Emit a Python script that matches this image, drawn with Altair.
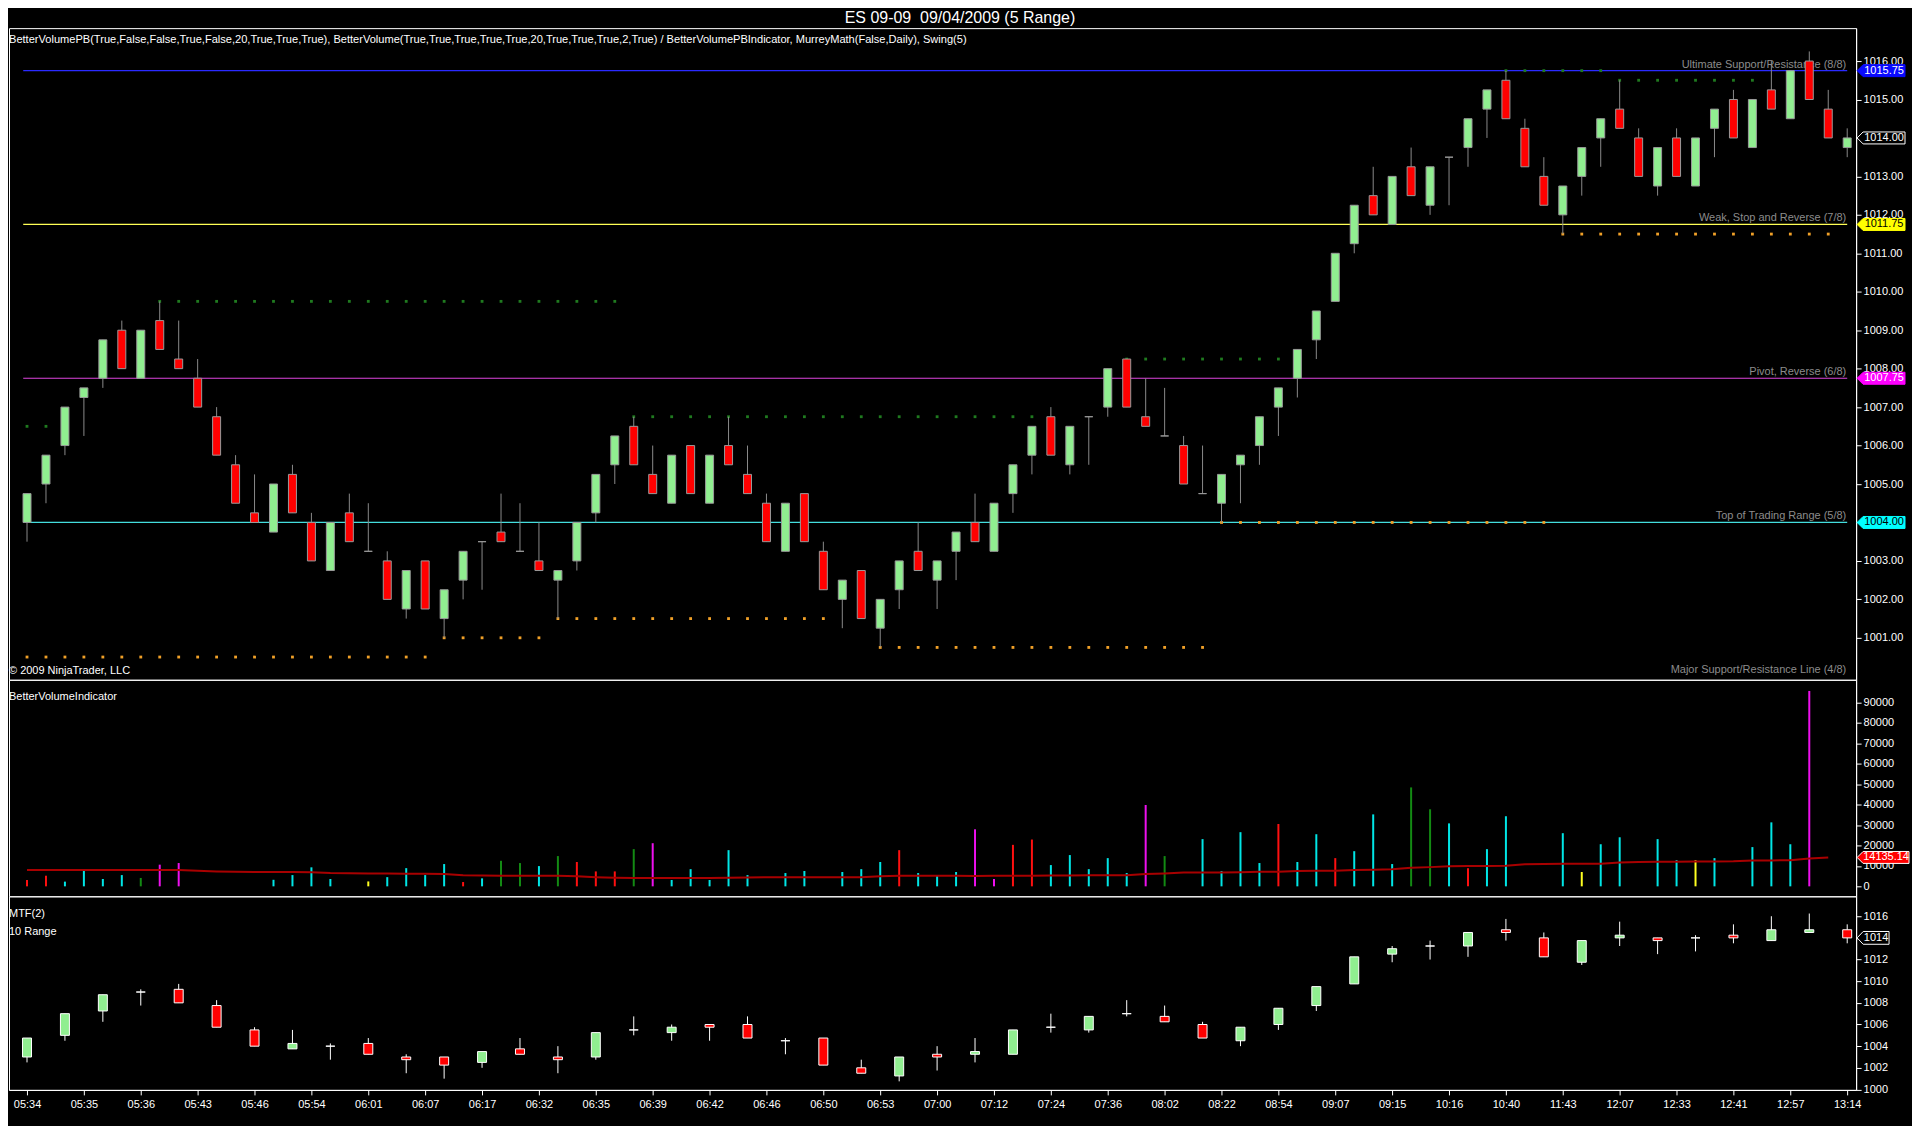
import json
import altair as alt
import pandas as pd

FONT = "Liberation Sans, Arial, sans-serif"

TITLE = "ES 09-09\u00a0 09/04/2009 (5 Range)"
INDICATORS = ("BetterVolumePB(True,False,False,True,False,20,True,True,True), "
              "BetterVolume(True,True,True,True,True,20,True,True,True,2,True) / "
              "BetterVolumePBIndicator, MurreyMath(False,Daily), Swing(5)")
COPYRIGHT = "\u00a9 2009 NinjaTrader, LLC"
VOL_TITLE = "BetterVolumeIndicator"
MTF_TITLE = "MTF(2)"
MTF_SUB = "10 Range"

# ---------------- 5-range bars ----------------
OPEN = [1004.0, 1005.0, 1006.0, 1007.25, 1007.75, 1009.0, 1007.75, 1009.25, 1008.25, 1007.75,
        1006.75, 1005.5, 1004.25, 1003.75, 1005.25, 1004.0, 1002.75, 1004.25, 1003.25, 1003.0,
        1001.75, 1003.0, 1001.5, 1002.5, 1003.5, 1003.75, 1003.25, 1003.0, 1002.5, 1003.0,
        1004.25, 1005.5, 1006.5, 1005.25, 1004.5, 1006.0, 1004.5, 1006.0, 1005.25, 1004.5,
        1003.25, 1004.75, 1003.25, 1002.0, 1002.75, 1001.25, 1002.25, 1003.25, 1002.5, 1003.25,
        1004.0, 1003.25, 1004.75, 1005.75, 1006.75, 1005.5, 1006.75, 1007.0, 1008.25, 1006.75,
        1006.25, 1006.0, 1004.75, 1004.5, 1005.5, 1006.0, 1007.0, 1007.75, 1008.75, 1009.75,
        1011.25, 1012.5, 1011.75, 1013.25, 1012.25, 1013.5, 1013.75, 1014.75, 1015.5, 1014.25,
        1013.0, 1012.0, 1013.0, 1014.0, 1014.75, 1014.0, 1012.75, 1014.0, 1012.75, 1014.25,
        1015.0, 1013.75, 1015.25, 1014.5, 1016.0, 1014.75, 1013.75]
HIGH = [1004.75, 1005.75, 1007.0, 1007.5, 1008.75, 1009.25, 1009.0, 1009.75, 1009.25, 1008.25,
        1007.0, 1005.75, 1005.25, 1005.0, 1005.5, 1004.25, 1004.0, 1004.75, 1004.5, 1003.25,
        1002.75, 1003.0, 1002.25, 1003.25, 1003.5, 1004.75, 1004.5, 1004.0, 1002.75, 1004.0,
        1005.25, 1006.25, 1006.75, 1006.0, 1005.75, 1006.0, 1005.75, 1006.75, 1006.0, 1004.75,
        1004.5, 1004.75, 1003.5, 1002.5, 1002.75, 1002.0, 1003.0, 1004.0, 1003.0, 1003.75,
        1004.75, 1004.5, 1005.5, 1006.5, 1007.0, 1006.5, 1006.75, 1008.0, 1008.25, 1007.75,
        1007.5, 1006.25, 1006.0, 1005.25, 1005.75, 1006.75, 1007.5, 1008.5, 1009.5, 1011.0,
        1012.25, 1013.25, 1013.0, 1013.75, 1013.25, 1013.5, 1014.5, 1015.25, 1015.75, 1014.5,
        1013.5, 1012.75, 1013.75, 1014.5, 1015.5, 1014.25, 1013.75, 1014.25, 1014.0, 1014.75,
        1015.25, 1015.0, 1016.0, 1015.75, 1016.25, 1015.25, 1014.25]
LOW = [1003.5, 1004.5, 1005.75, 1006.25, 1007.5, 1008.0, 1007.75, 1008.5, 1008.0, 1007.0,
       1005.75, 1004.5, 1004.0, 1003.75, 1004.25, 1003.0, 1002.75, 1003.5, 1003.25, 1002.0,
       1001.5, 1001.75, 1001.0, 1002.0, 1002.25, 1003.5, 1003.25, 1002.75, 1001.5, 1002.75,
       1004.0, 1005.0, 1005.5, 1004.75, 1004.5, 1004.75, 1004.5, 1005.5, 1004.75, 1003.5,
       1003.25, 1003.5, 1002.25, 1001.25, 1001.5, 1000.75, 1001.75, 1002.75, 1001.75, 1002.5,
       1003.5, 1003.25, 1004.25, 1005.25, 1005.75, 1005.25, 1005.5, 1006.75, 1007.0, 1006.5,
       1006.25, 1005.0, 1004.75, 1004.0, 1004.5, 1005.5, 1006.25, 1007.25, 1008.25, 1009.75,
       1011.0, 1012.0, 1011.75, 1012.5, 1012.0, 1012.25, 1013.25, 1014.0, 1014.5, 1013.25,
       1012.25, 1011.5, 1012.5, 1013.25, 1014.25, 1013.0, 1012.5, 1013.0, 1012.75, 1013.5,
       1014.0, 1013.75, 1014.75, 1014.5, 1015.0, 1014.0, 1013.5]
CLOSE = [1004.75, 1005.75, 1007.0, 1007.5, 1008.75, 1008.0, 1009.0, 1008.5, 1008.0, 1007.0,
         1005.75, 1004.5, 1004.0, 1005.0, 1004.25, 1003.0, 1004.0, 1003.5, 1003.25, 1002.0,
         1002.75, 1001.75, 1002.25, 1003.25, 1003.5, 1003.5, 1003.25, 1002.75, 1002.75, 1004.0,
         1005.25, 1006.25, 1005.5, 1004.75, 1005.75, 1004.75, 1005.75, 1005.5, 1004.75, 1003.5,
         1004.5, 1003.5, 1002.25, 1002.5, 1001.5, 1002.0, 1003.0, 1002.75, 1003.0, 1003.75,
         1003.5, 1004.5, 1005.5, 1006.5, 1005.75, 1006.5, 1006.75, 1008.0, 1007.0, 1006.5,
         1006.25, 1005.0, 1004.75, 1005.25, 1005.75, 1006.75, 1007.5, 1008.5, 1009.5, 1011.0,
         1012.25, 1012.0, 1013.0, 1012.5, 1013.25, 1013.5, 1014.5, 1015.25, 1014.5, 1013.25,
         1012.25, 1012.75, 1013.75, 1014.5, 1014.25, 1013.0, 1013.75, 1013.0, 1014.0, 1014.75,
         1014.0, 1015.0, 1014.75, 1015.75, 1015.0, 1014.0, 1014.0]

# Murrey Math levels
MURREY_LEVELS = [1015.75, 1011.75, 1007.75, 1004.00, 1000.00]
MURREY_NAMES = ["Ultimate Support/Resistance (8/8)", "Weak, Stop and Reverse (7/8)",
                "Pivot, Reverse (6/8)", "Top of Trading Range (5/8)",
                "Major Support/Resistance Line (4/8)"]

# Swing(5) levels: (price, first bar, last bar)
SWING_HIGHS = [(1006.5, 1, 2), (1009.75, 8, 32), (1006.75, 33, 54), (1008.25, 59, 67),
               (1015.75, 79, 84), (1015.5, 85, 92)]
SWING_LOWS = [(1000.5, 1, 22), (1001.0, 23, 28), (1001.5, 29, 43), (1000.75, 46, 63),
              (1004.0, 64, 81), (1011.5, 82, 96)]

LAST_PRICE = 1014.00

# ---------------- Better Volume ----------------
VOLUME = [3100, 5200, 2300, 7600, 3600, 5500, 4100, 10600, 11400, None,
          None, None, None, 3200, 5500, 9300, 3600, None, 2400, 4500,
          8900, 5500, 10900, 2100, 3900, 12500, 11400, 9900, 14800, 11900,
          7300, 7300, 18200, 21100, 3100, 8400, 3100, 17700, 5500, None,
          6500, 7500, None, 7000, 8400, 11900, 17700, 6500, 5500, 7000,
          27900, 3600, 20300, 22900, 10400, 15300, 8400, 13800, 6500, 39800,
          14800, None, 23100, 7500, 26500, 11400, 30500, 11900, 25500, 13800,
          17200, 35200, 10900, 48400, 37700, 30800, 8900, 18200, 34300, None,
          None, 26000, 7000, 20600, 24000, None, 23100, 12800, 12800, 13800,
          None, 19200, 31300, 20600, 95600, None, None]
# L = low volume, C = climax, U = churn, M = climax churn, Y = low churn
VOLTYPE = ["C", "C", "L", "L", "L", "L", "U", "M", "M", None,
           None, None, None, "L", "L", "L", "L", None, "Y", "L",
           "L", "L", "L", "C", "L", "U", "U", "L", "U", "C",
           "C", "C", "U", "M", "L", "L", "L", "L", "L", None,
           "L", "L", None, "L", "L", "L", "C", "L", "L", "L",
           "M", "M", "C", "C", "L", "L", "L", "L", "L", "M",
           "U", None, "L", "L", "L", "L", "C", "L", "L", "C",
           "L", "L", "L", "U", "U", "L", "C", "L", "L", None,
           None, "L", "Y", "L", "L", None, "L", "L", "Y", "L",
           None, "L", "L", "L", "M", None, None]
VOL_AVG = [7950, 7950, 7950, 7960, 7960, 7970, 7970, 7980, 7980, 7600,
           7300, 7100, 7050, 7000, 7000, 6950, 6500, 6350, 6300, 6300,
           6150, 6100, 6050, 5450, 5250, 5200, 5200, 5200, 5150, 4900,
           4500, 4200, 4100, 4100, 4100, 4050, 4100, 4150, 4350, 4400,
           4400, 4400, 4400, 4450, 4450, 4950, 5150, 5200, 5200, 5200,
           5100, 5150, 5200, 5200, 5250, 5350, 5400, 5400, 5450, 6000,
           6300, 6750, 6800, 6800, 6850, 7100, 7150, 7550, 7600, 7650,
           8050, 8150, 8400, 9100, 9400, 9850, 9900, 9950, 10100, 10850,
           10900, 11000, 11000, 11050, 11700, 11950, 12000, 12050, 12150, 12200,
           12250, 12650, 12700, 12750, 13600, 14135.14, None]
VOL_AVG_LAST = 14135.14

# ---------------- MTF(2): 10-range bars ----------------
MTF_OPEN = [1003.0, 1005.0, 1007.25, 1009.0, 1009.25, 1007.75, 1005.5, 1003.75, 1004.0, 1004.25,
            1003.0, 1003.0, 1002.5, 1003.75, 1003.0, 1003.0, 1005.5, 1005.25, 1006.0, 1006.0,
            1004.5, 1004.75, 1002.0, 1001.25, 1003.25, 1003.25, 1003.25, 1005.75, 1005.5, 1007.0,
            1006.75, 1006.0, 1004.5, 1006.0, 1007.75, 1009.75, 1012.5, 1013.25, 1013.25, 1014.75,
            1014.0, 1011.75, 1014.0, 1014.0, 1014.0, 1014.25, 1013.75, 1014.5, 1014.75]
MTF_HIGH = [1004.75, 1007.0, 1008.75, 1009.25, 1009.75, 1008.25, 1005.75, 1005.5, 1004.25, 1004.75,
            1003.25, 1003.0, 1003.5, 1004.75, 1004.0, 1005.25, 1006.75, 1006.0, 1006.0, 1006.75,
            1004.75, 1004.75, 1002.75, 1003.0, 1004.0, 1004.75, 1005.5, 1007.0, 1006.75, 1008.25,
            1007.75, 1006.25, 1005.75, 1007.5, 1009.5, 1012.25, 1013.25, 1013.75, 1014.5, 1015.75,
            1014.5, 1013.75, 1015.5, 1014.0, 1014.25, 1015.25, 1016.0, 1016.25, 1015.25]
MTF_LOW = [1002.5, 1004.5, 1006.25, 1007.75, 1008.0, 1005.75, 1004.0, 1003.75, 1002.75, 1003.25,
           1001.5, 1001.0, 1002.0, 1003.25, 1001.5, 1002.75, 1005.0, 1004.5, 1004.5, 1004.75,
           1003.25, 1002.25, 1001.5, 1000.75, 1001.75, 1002.5, 1003.25, 1005.25, 1005.25, 1006.75,
           1006.25, 1004.75, 1004.0, 1005.5, 1007.25, 1009.75, 1011.75, 1012.0, 1012.25, 1013.75,
           1012.25, 1011.5, 1013.25, 1012.5, 1012.75, 1013.5, 1013.75, 1014.5, 1013.5]
MTF_CLOSE = [1004.75, 1007.0, 1008.75, 1009.0, 1008.0, 1005.75, 1004.0, 1004.25, 1004.0, 1003.25,
             1002.75, 1002.25, 1003.5, 1003.25, 1002.75, 1005.25, 1005.5, 1005.75, 1005.75, 1004.75,
             1004.5, 1002.25, 1001.5, 1003.0, 1003.0, 1003.5, 1005.5, 1005.75, 1006.75, 1007.0,
             1006.25, 1004.75, 1005.75, 1007.5, 1009.5, 1012.25, 1013.0, 1013.25, 1014.5, 1014.5,
             1012.25, 1013.75, 1014.25, 1013.75, 1014.0, 1014.0, 1014.75, 1014.75, 1014.0]
MTF_LAST = 1014

TIME_LABELS = ["05:34", "05:35", "05:36", "05:43", "05:46", "05:54", "06:01", "06:07", "06:17",
               "06:32", "06:35", "06:39", "06:42", "06:46", "06:50", "06:53", "07:00", "07:12",
               "07:24", "07:36", "08:02", "08:22", "08:54", "09:07", "09:15", "10:16", "10:40",
               "11:43", "12:07", "12:33", "12:41", "12:57", "13:14"]

# ---------------- styles ----------------
UP, DOWN = "#90ee90", "#ff0000"
MURREY_COLORS = ["#2a2aff", "#ffff55", "#dd44dd", "#44dddd", None]
TAG_FILL = ["#0a0aff", "#ffff00", "#ff00ff", "#00ffff"]
TAG_TEXT = ["#ffffff", "#000000", "#ffffff", "#000000"]
VOL_COLORS = {"L": "#00e6e6", "C": "#ff1010", "U": "#138a13", "M": "#ee10ee", "Y": "#ffff20"}
SWING_HIGH_COLOR, SWING_LOW_COLOR = "#1f7a1f", "#f0a028"

W = 1851
H_PRICE, H_VOL, H_MTF = 653, 217, 194
XS = alt.Scale(domain=[0.05, 97.47], nice=False, zero=False, padding=0)
YS_P = alt.Scale(domain=[999.909, 1016.856], nice=False, zero=False, padding=0)
YS_V = alt.Scale(domain=[-4880, 101070], nice=False, zero=False, padding=0)
YS_M = alt.Scale(domain=[999.96, 1017.84], nice=False, zero=False, padding=0)

AX_P = alt.Axis(orient="right", values=list(range(1001, 1017)), format=".2f", title=None, grid=False)
AX_V = alt.Axis(orient="right", values=list(range(0, 90001, 10000)), format="d", title=None, grid=False)
AX_M = alt.Axis(orient="right", values=list(range(1000, 1017, 2)), format="d", title=None, grid=False)
AX_T = alt.Axis(orient="bottom", values=list(range(1, 98, 3)), title=None, grid=False,
                labelFlush=False, labelPadding=4,
                labelExpr=json.dumps(TIME_LABELS) + "[round((datum.value - 1) / 3)]")

TAG_PATH_P = "M-1,0L-0.75,-0.25L1,-0.25L1,0.25L-0.75,0.25Z"
TAG_PATH_V = "M-1,0L-0.77,-0.23L1,-0.23L1,0.23L-0.77,0.23Z"
TAG_PATH_M = "M-1,0L-0.62,-0.4L1,-0.4L1,0.4L-0.62,0.4Z"


def X(field="i"):
    return alt.X(f"{field}:Q", scale=XS, axis=None)


def candle_frame(idx, o, h, l, c, up, down, flat):
    df = pd.DataFrame({"i": idx, "o": o, "h": h, "l": l, "c": c})
    df["fill"] = [up if cc > oo else (down if cc < oo else flat) for oo, cc in zip(o, c)]
    return df


def text_layer(txt, x, y, color="white", size=11, align="left", baseline="middle"):
    return alt.Chart(pd.DataFrame({"t": [txt]})).mark_text(
        align=align, baseline=baseline, color=color, fontSize=size, font=FONT
    ).encode(x=alt.value(x), y=alt.value(y), text="t:N")


# ================= price panel =================
bars = candle_frame(list(range(1, len(OPEN) + 1)), OPEN, HIGH, LOW, CLOSE, UP, DOWN, "#000000")

mm = pd.DataFrame({"level": MURREY_LEVELS, "name": MURREY_NAMES, "col": MURREY_COLORS})
mm_lines = mm.dropna(subset=["col"])

m_rules = alt.Chart(mm_lines).mark_rule(strokeWidth=1.2).encode(
    x=alt.XDatum(0.8, scale=XS, axis=None), x2=alt.X2Datum(97.0),
    y=alt.Y("level:Q", scale=YS_P, axis=AX_P),
    color=alt.Color("col:N", scale=None))
m_labels = alt.Chart(mm).mark_text(align="right", baseline="bottom", dy=-1, color="#8c8c8c",
                                   fontSize=11, font=FONT).encode(
    x=alt.XDatum(96.95, scale=XS, axis=None),
    y=alt.Y("level:Q", scale=YS_P, axis=AX_P), text="name:N")

sw_rows = []
for lvl, a, b in SWING_HIGHS:
    sw_rows += [{"i": k, "p": lvl, "col": SWING_HIGH_COLOR} for k in range(a, b + 1)]
for lvl, a, b in SWING_LOWS:
    sw_rows += [{"i": k, "p": lvl, "col": SWING_LOW_COLOR} for k in range(a, b + 1)]
swings = alt.Chart(pd.DataFrame(sw_rows)).mark_square(size=8, opacity=1).encode(
    x=X(), y=alt.Y("p:Q", scale=YS_P, axis=AX_P), color=alt.Color("col:N", scale=None))

wicks = alt.Chart(bars).mark_rule(color="#8a8a8a", strokeWidth=1).encode(
    x=X(), y=alt.Y("l:Q", scale=YS_P, axis=AX_P), y2="h:Q")
bodies = alt.Chart(bars).mark_bar(size=8, stroke="#9a9a9a", strokeWidth=1).encode(
    x=X(), y=alt.Y("o:Q", scale=YS_P, axis=AX_P), y2="c:Q",
    fill=alt.Fill("fill:N", scale=None))

tags_p = pd.DataFrame({"v": MURREY_LEVELS[:4] + [LAST_PRICE],
                       "txt": [f"{v:.2f}" for v in MURREY_LEVELS[:4] + [LAST_PRICE]],
                       "fill": TAG_FILL + ["#000000"],
                       "stroke": TAG_FILL + ["#ffffff"],
                       "tc": TAG_TEXT + ["#ffffff"]})
tag_shape_p = alt.Chart(tags_p).mark_point(shape=TAG_PATH_P, size=2304, filled=True, opacity=1,
                                          strokeWidth=1).encode(
    x=alt.value(1876), y=alt.Y("v:Q", scale=YS_P, axis=AX_P),
    fill=alt.Fill("fill:N", scale=None), stroke=alt.Stroke("stroke:N", scale=None))
tag_text_p = alt.Chart(tags_p).mark_text(fontSize=11, font=FONT, align="center",
                                         baseline="middle").encode(
    x=alt.value(1879), y=alt.Y("v:Q", scale=YS_P, axis=AX_P), text="txt:N",
    color=alt.Color("tc:N", scale=None))

price = alt.layer(
    m_rules, m_labels, swings, wicks, bodies, tag_shape_p, tag_text_p,
    text_layer(INDICATORS, 0, 12, size=11.1),
    text_layer(COPYRIGHT, 0, 644),
).properties(width=W, height=H_PRICE)

# ================= volume panel =================
vol = pd.DataFrame({"i": list(range(1, len(VOLUME) + 1)), "v": VOLUME, "t": VOLTYPE, "ma": VOL_AVG})
vbars = vol.dropna(subset=["v"]).copy()
vbars["col"] = [VOL_COLORS[t] for t in vbars["t"]]
vrules = alt.Chart(vbars).mark_rule(strokeWidth=2).encode(
    x=X(), y=alt.Y("v:Q", scale=YS_V, axis=AX_V), y2=alt.Y2Datum(0),
    color=alt.Color("col:N", scale=None))
vma = alt.Chart(vol.dropna(subset=["ma"])).mark_line(color="#a80000", strokeWidth=2).encode(
    x=X(), y=alt.Y("ma:Q", scale=YS_V, axis=AX_V))
tag_v = pd.DataFrame({"v": [VOL_AVG_LAST], "txt": [f"{VOL_AVG_LAST:.2f}"]})
tag_shape_v = alt.Chart(tag_v).mark_point(shape=TAG_PATH_V, size=2704, filled=True, opacity=1,
                                         fill="#ff0000", stroke="#ffffff", strokeWidth=1).encode(
    x=alt.value(1878), y=alt.Y("v:Q", scale=YS_V, axis=AX_V))
tag_text_v = alt.Chart(tag_v).mark_text(fontSize=11, font=FONT, color="white").encode(
    x=alt.value(1881), y=alt.Y("v:Q", scale=YS_V, axis=AX_V), text="txt:N")

volume = alt.layer(vrules, vma, tag_shape_v, tag_text_v,
                   text_layer(VOL_TITLE, 0, 17)).properties(width=W, height=H_VOL)

# ================= MTF panel =================
mtf = candle_frame(list(range(1, 2 * len(MTF_OPEN), 2)), MTF_OPEN, MTF_HIGH, MTF_LOW, MTF_CLOSE,
                   UP, DOWN, "#000000")
m_wicks = alt.Chart(mtf).mark_rule(color="white", strokeWidth=1).encode(
    x=alt.X("i:Q", scale=XS, axis=AX_T), y=alt.Y("l:Q", scale=YS_M, axis=AX_M), y2="h:Q")
m_bodies = alt.Chart(mtf).mark_bar(size=9, stroke="white", strokeWidth=1).encode(
    x=alt.X("i:Q", scale=XS, axis=AX_T), y=alt.Y("o:Q", scale=YS_M, axis=AX_M), y2="c:Q",
    fill=alt.Fill("fill:N", scale=None))
tag_m = pd.DataFrame({"v": [MTF_LAST], "txt": [str(MTF_LAST)]})
tag_shape_m = alt.Chart(tag_m).mark_point(shape=TAG_PATH_M, size=1024, filled=True, opacity=1,
                                         fill="#000000", stroke="#ffffff", strokeWidth=1).encode(
    x=alt.value(1868), y=alt.Y("v:Q", scale=YS_M, axis=AX_M))
tag_text_m = alt.Chart(tag_m).mark_text(fontSize=11, font=FONT, color="white").encode(
    x=alt.value(1871), y=alt.Y("v:Q", scale=YS_M, axis=AX_M), text="txt:N")

mtf_panel = alt.layer(m_wicks, m_bodies, tag_shape_m, tag_text_m,
                      text_layer(MTF_TITLE, 0, 18), text_layer(MTF_SUB, 0, 36)
                      ).properties(width=W, height=H_MTF)

chart = alt.vconcat(price, volume, mtf_panel, spacing=0, bounds="flush").properties(
    title=alt.TitleParams(TITLE, color="white", font=FONT, fontSize=16, fontWeight="normal",
                          anchor="middle", offset=2),
    padding={"left": 0, "top": 0, "right": 0, "bottom": 14},
).configure(background="black", font=FONT).configure_view(
    stroke="white", strokeWidth=1
).configure_axis(
    labelColor="white", tickColor="white", domainColor="white", labelFont=FONT,
    labelFontSize=11, tickSize=5, labelPadding=2, domainWidth=1, tickWidth=1,
    labelOverlap=False
)

chart.save("out.html", embed_options={"renderer": "svg", "actions": False})
